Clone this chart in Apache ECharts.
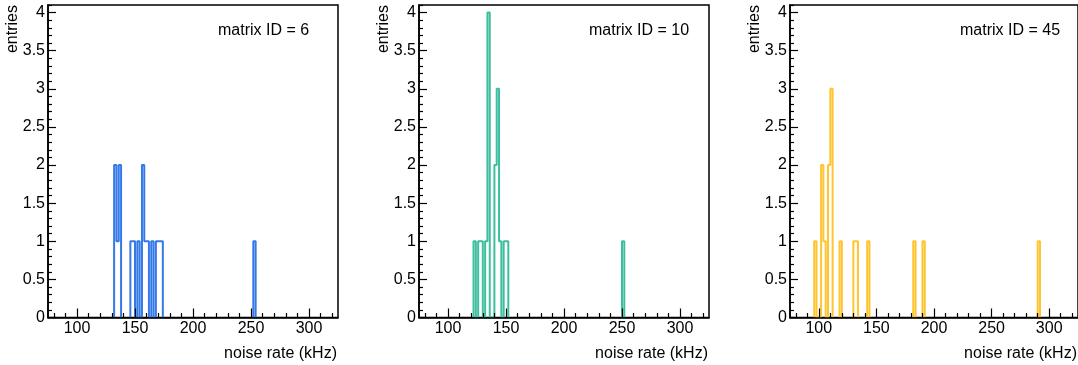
<!DOCTYPE html>
<html><head><meta charset="utf-8">
<script src="https://cdn.jsdelivr.net/npm/echarts@6/dist/echarts.min.js"></script>
<style>html,body{margin:0;padding:0;background:#fff}#c{width:1078px;height:365px}</style>
</head><body><div id="c"></div>
<script>
// ---- data (bin lower edges, bin width 2 kHz) ----
const matrixIds = [6, 10, 45];
const binWidth = 2;
const p1Edges  = [132, 134, 136, 146, 148, 152, 156, 158, 160, 164, 168, 170, 172, 252];
const p1Counts = [2,   1,   2,   1,   1,   1,   2,   1,   1,   1,   1,   1,   1,   1];
const p2Edges  = [122, 126, 128, 132, 134, 140, 142, 144, 148, 150, 250];
const p2Counts = [1,   1,   1,   1,   4,   2,   3,   1,   1,   1,   1];
const p3Edges  = [96, 102, 104, 108, 110, 118, 130, 132, 142, 182, 190, 290];
const p3Counts = [1,  2,   1,   2,   3,   1,   1,   1,   1,   1,   1,   1];
const xRange = [75, 325];
const yRange = [0, 4.1];
const xMajorTicks = [100, 150, 200, 250, 300];
const xMinorTicks = [80, 90, 110, 120, 130, 140, 160, 170, 180, 190, 210, 220, 230, 240, 260, 270, 280, 290, 310, 320];
const yMajorTicks = [0, 0.5, 1, 1.5, 2, 2.5, 3, 3.5, 4];
const yMinorTicks = [0.1,0.2,0.3,0.4,0.6,0.7,0.8,0.9,1.1,1.2,1.3,1.4,1.6,1.7,1.8,1.9,2.1,2.2,2.3,2.4,2.6,2.7,2.8,2.9,3.1,3.2,3.3,3.4,3.6,3.7,3.8,3.9,4.1];
const xTitle = 'noise rate (kHz)';
const yTitle = 'entries';

// ---- styling / layout ----
const colors = ['#3479e8', '#3dbf9f', '#ffc531'];
const lefts = [48, 419, 790];
const widths = [290, 290, 288];
const gTop = 5, gHeight = 312.5;
const FONT = '"Liberation Sans", Arial, Helvetica, sans-serif';

// histogram contour (ROOT "HIST" style): one step path per run of filled bins
function histPoints(edges, counts) {
  const map = {};
  edges.forEach((e, i) => { map[e] = counts[i]; });
  const pts = [];
  let inRun = false;
  for (let e = 74; e < 326; e += binWidth) {
    const c = map[e] || 0;
    const next = map[e + binWidth] || 0, next2 = map[e + 2 * binWidth] || 0;
    if (c > 0) {
      if (!inRun) { pts.push([e, 0]); inRun = true; }
      pts.push([e, c]);
    } else if (inRun) {
      pts.push([e, 0]);
      if (next === 0 && next2 === 0) { pts.push(null); inRun = false; }
    }
  }
  return pts;
}
const panels = [[p1Edges, p1Counts], [p2Edges, p2Counts], [p3Edges, p3Counts]];

const grid = [], xAxis = [], yAxis = [], series = [], graphic = [];
panels.forEach((p, k) => {
  const g = {left: lefts[k], top: gTop, width: widths[k], height: gHeight};
  grid.push(Object.assign({show: true, borderColor: '#000', borderWidth: 1.5, backgroundColor: 'transparent'}, g));
  grid.push(Object.assign({show: false}, g));
  xAxis.push({gridIndex: 2*k, type: 'value', min: xRange[0], max: xRange[1], z: 10,
    axisLine: {show: true, lineStyle: {color: '#000', width: 1.6}},
    axisTick: {show: true, inside: true, length: 9, customValues: xMajorTicks, lineStyle: {color: '#000', width: 1.2}},
    axisLabel: {show: true, customValues: xMajorTicks, margin: 3, color: '#000', fontSize: 16, fontFamily: FONT},
    splitLine: {show: false}});
  yAxis.push({gridIndex: 2*k, type: 'value', min: yRange[0], max: yRange[1], z: 10,
    axisLine: {show: true, lineStyle: {color: '#000', width: 1.6}},
    axisTick: {show: true, inside: true, length: 8, customValues: yMajorTicks, lineStyle: {color: '#000', width: 1.2}},
    axisLabel: {show: true, customValues: yMajorTicks, margin: 3, color: '#000', fontSize: 16, fontFamily: FONT},
    splitLine: {show: false}});
  xAxis.push({gridIndex: 2*k+1, type: 'value', min: xRange[0], max: xRange[1], z: 10,
    axisLine: {show: false},
    axisTick: {show: true, inside: true, length: 4.5, customValues: xMinorTicks, lineStyle: {color: '#000', width: 1.2}},
    axisLabel: {show: false}, splitLine: {show: false}});
  yAxis.push({gridIndex: 2*k+1, type: 'value', min: yRange[0], max: yRange[1], z: 10,
    axisLine: {show: false},
    axisTick: {show: true, inside: true, length: 4, customValues: yMinorTicks, lineStyle: {color: '#000', width: 1.2}},
    axisLabel: {show: false}, splitLine: {show: false}});
  series.push({type: 'line', xAxisIndex: 2*k, yAxisIndex: 2*k, step: 'end', showSymbol: false,
    symbol: 'none', z: 2, clip: true, animation: false, connectNulls: false,
    lineStyle: {color: colors[k], width: 2}, data: histPoints(p[0], p[1])});
  graphic.push({type: 'text', x: lefts[k] - 35, y: gTop, rotation: Math.PI/2,
    style: {text: yTitle, font: '16px ' + FONT, fill: '#000', align: 'right', verticalAlign: 'middle'}});
  graphic.push({type: 'text', x: lefts[k] + widths[k] - 1, y: 354,
    style: {text: xTitle, font: '16px ' + FONT, fill: '#000', align: 'right', verticalAlign: 'middle'}});
  graphic.push({type: 'text', x: lefts[k] + 170, y: 31,
    style: {text: 'matrix ID = ' + matrixIds[k], font: '16px ' + FONT, fill: '#000', align: 'left', verticalAlign: 'middle'}});
});

const chart = echarts.init(document.getElementById('c'), null, {renderer: 'canvas'});
chart.setOption({animation: false, backgroundColor: '#fff', grid, xAxis, yAxis, series, graphic});
</script></body></html>
